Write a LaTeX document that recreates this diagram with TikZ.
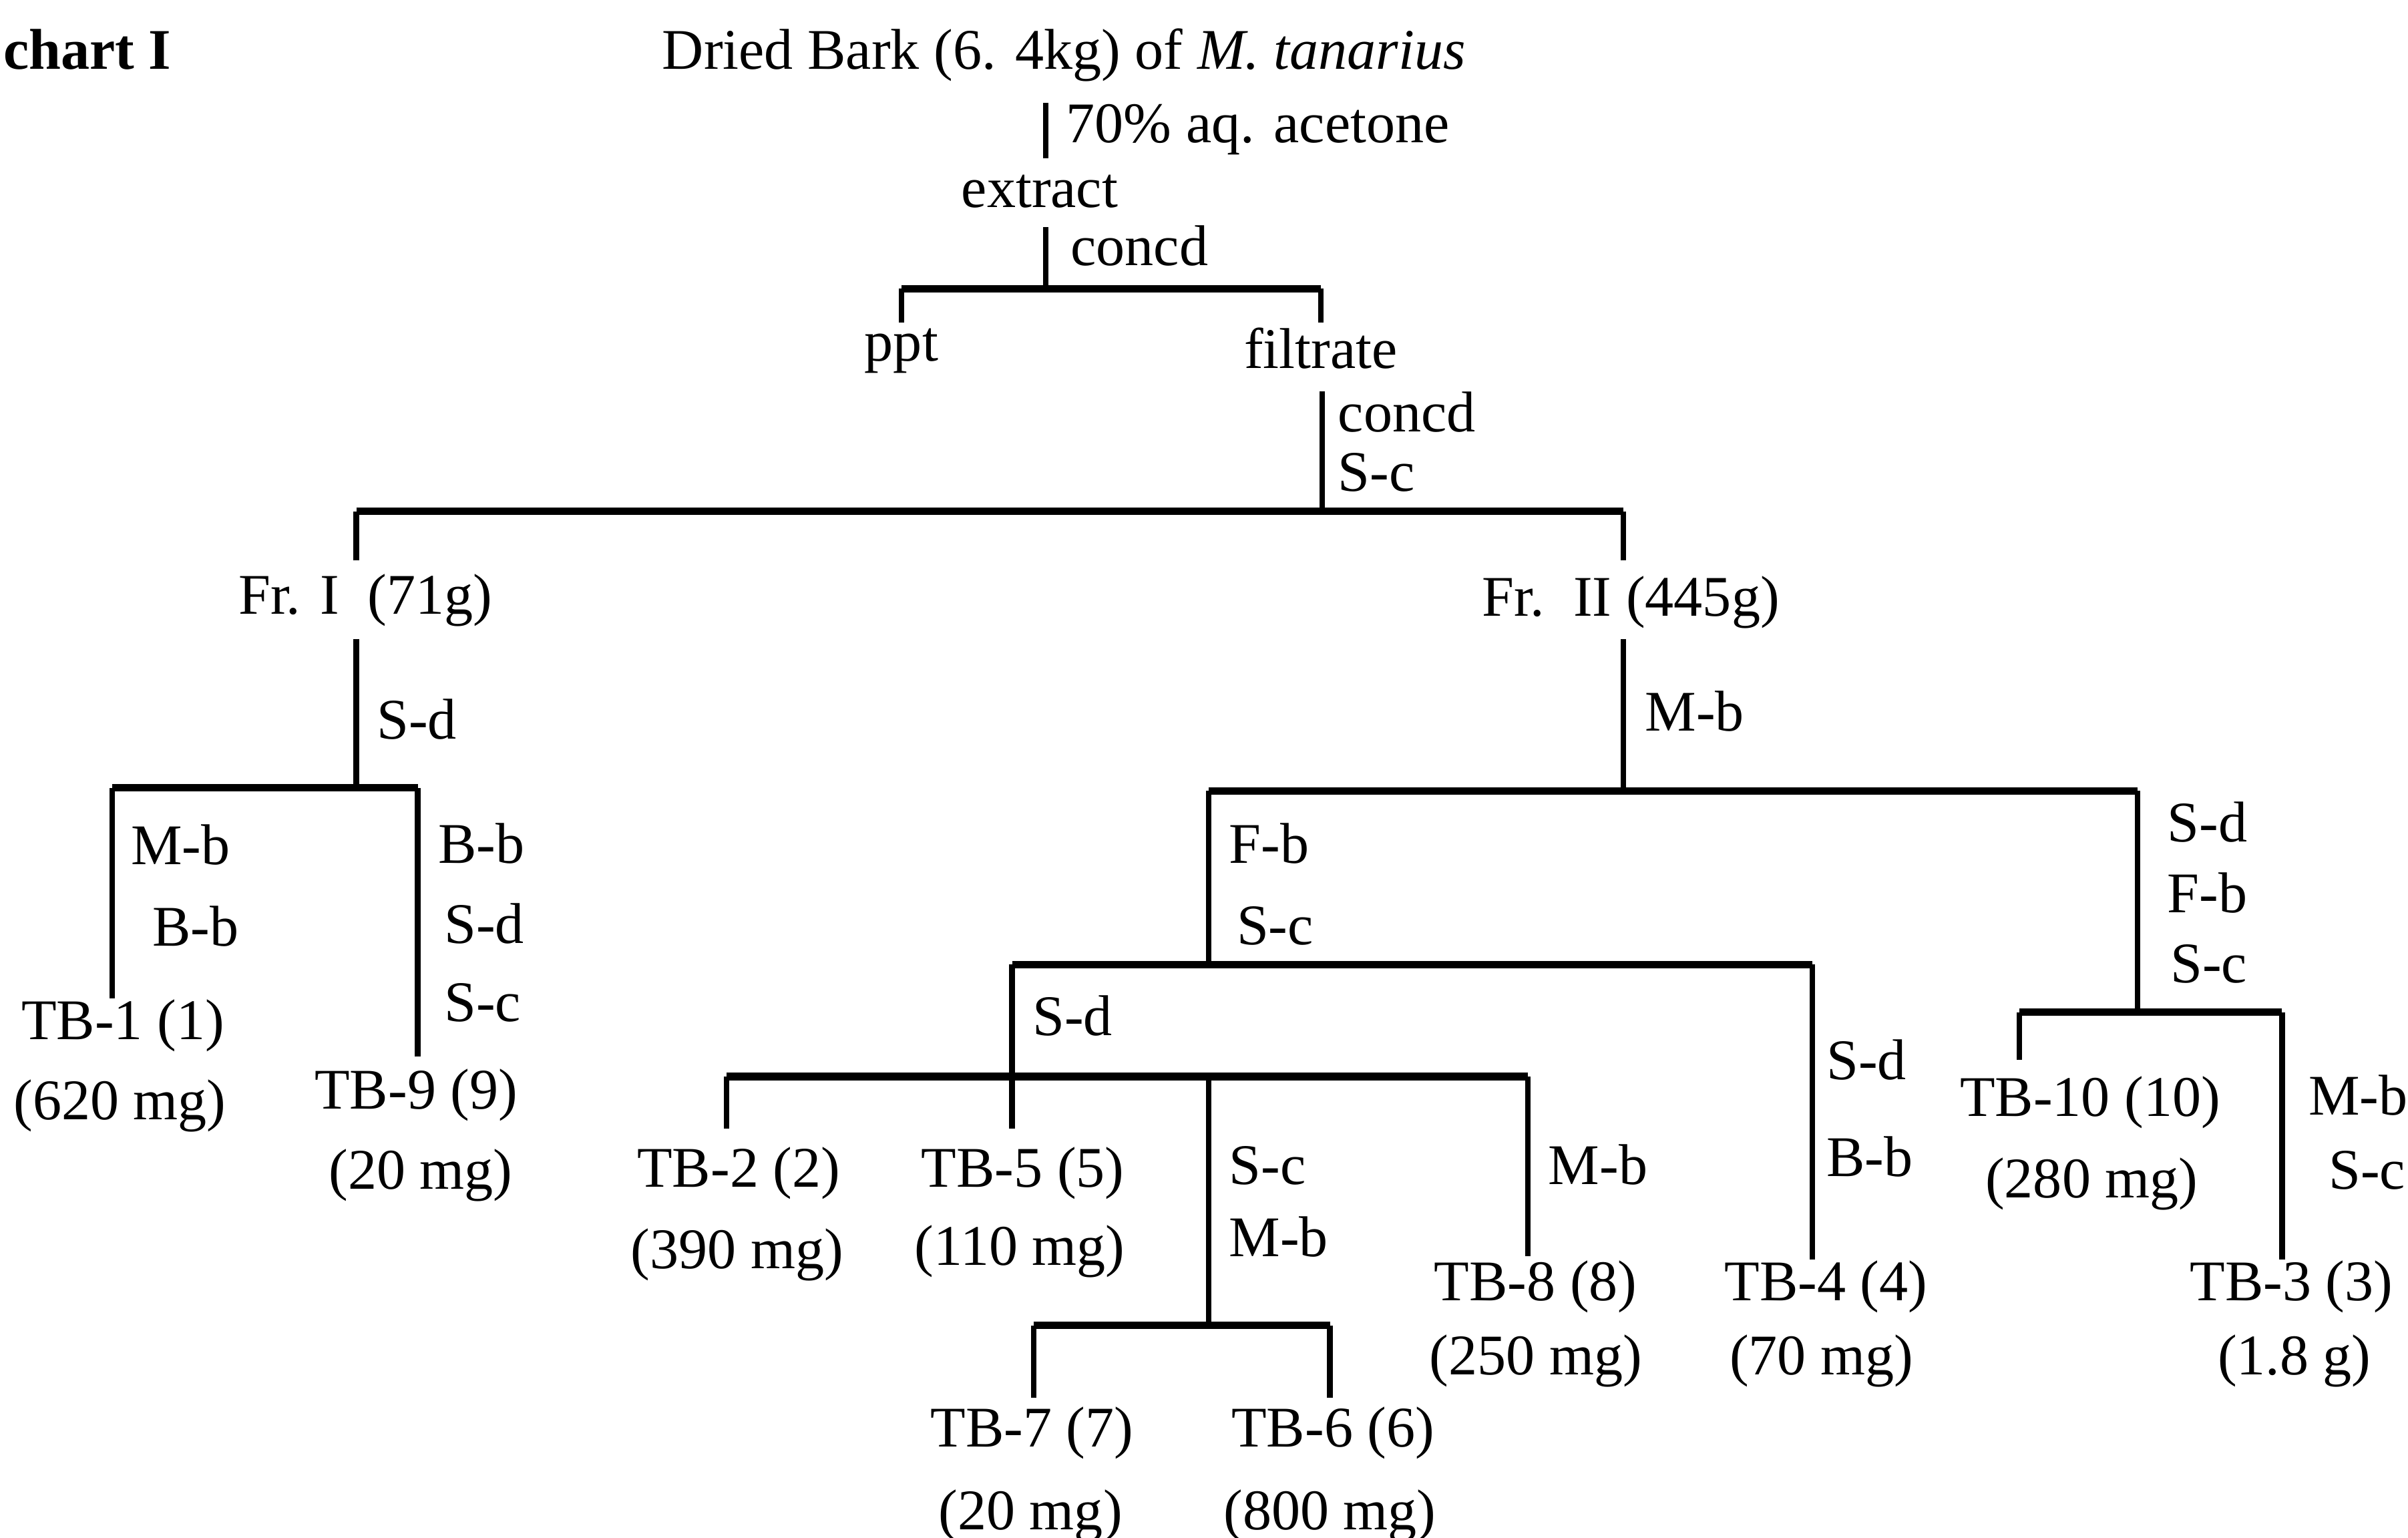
\documentclass[tikz,border=0pt]{standalone}
\usepackage{fontspec}
\setmainfont{Liberation Serif}
\begin{document}
\begin{tikzpicture}[x=0.023cm,y=-0.023cm,
  lbl/.style={font=\fontsize{24.5}{29}\selectfont, inner sep=0pt},
  lw/.style={lbl, anchor=base west},
  lc/.style={lbl, anchor=base},
  hl/.style={line width=3.2pt},
  vl/.style={line width=2.4pt}]
\useasboundingbox (0,0) rectangle (1568,1001);
% ---------- texts ----------
\node[lw] (title) at (2,45) {\bfseries chart I};
\node[lw] (bark) at (431,45) {Dried Bark (6. 4kg) of \textit{M. tanarius}};
\node[lw] (acet) at (694,93) {70\% aq. acetone};
\node[lc] (extract) at (677,135) {extract};
\node[lw] (concd1) at (697,173) {concd};
\node[lc] (ppt) at (587,235) {ppt};
\node[lc] (filtrate) at (860,240) {filtrate};
\node[lw] (concd2) at (871,281) {concd};
\node[lw] (sc1) at (871,320) {S-c};
\node[lw] (fr1) at (155,400) {Fr. I\ \ (71g)};
\node[lw] (fr2) at (965,401) {Fr.\ \ II\ (445g)};
\node[lw] (sd1) at (245,481) {S-d};
\node[lw] (mb1) at (85,563) {M-b};
\node[lw] (bb1) at (99,616) {B-b};
\node[lw] (bb2) at (285,562) {B-b};
\node[lw] (sd2) at (289,614) {S-d};
\node[lw] (sc2) at (289,665) {S-c};
\node[lc] (tb1) at (80,677) {TB-1 (1)};
\node[lc] (tb1m) at (78,729) {(620 mg)};
\node[lc] (tb9) at (271,722) {TB-9 (9)};
\node[lc] (tb9m) at (274,774) {(20 mg)};
\node[lw] (mb2) at (1071,476) {M-b};
\node[lw] (fb1) at (800,562) {F-b};
\node[lw] (sc3) at (805,615) {S-c};
\node[lw] (sd3) at (1411,548) {S-d};
\node[lw] (fb2) at (1411,594) {F-b};
\node[lw] (sc4) at (1413,640) {S-c};
\node[lw] (sd4) at (672,674) {S-d};
\node[lc] (tb2) at (481,773) {TB-2 (2)};
\node[lc] (tb2m) at (480,826) {(390 mg)};
\node[lc] (tb5) at (666,773) {TB-5 (5)};
\node[lc] (tb5m) at (664,824) {(110 mg)};
\node[lw] (sc5) at (800,771) {S-c};
\node[lw] (mb3) at (800,818) {M-b};
\node[lw] (mb4) at (1008,771) {M-b};
\node[lc] (tb8) at (1000,847) {TB-8 (8)};
\node[lc] (tb8m) at (1000,895) {(250 mg)};
\node[lw] (sd5) at (1189,703) {S-d};
\node[lw] (bb3) at (1189,766) {B-b};
\node[lc] (tb4) at (1189,847) {TB-4 (4)};
\node[lc] (tb4m) at (1186,895) {(70 mg)};
\node[lc] (tb7) at (672,942) {TB-7 (7)};
\node[lc] (tb7m) at (671,996) {(20 mg)};
\node[lc] (tb6) at (868,942) {TB-6 (6)};
\node[lc] (tb6m) at (866,996) {(800 mg)};
\node[lc] (tb10) at (1361,727) {TB-10 (10)};
\node[lc] (tb10m) at (1362,780) {(280 mg)};
\node[lw] (mb5) at (1503,726) {M-b};
\node[lw] (sc6) at (1516,774) {S-c};
\node[lc] (tb3) at (1492,847) {TB-3 (3)};
\node[lc] (tb3m) at (1494,895) {(1.8 g)};
% ---------- junction coordinates ----------
\coordinate (a1) at (681,67);  \coordinate (a2) at (681,103);
\coordinate (b1) at (681,148); \coordinate (b2) at (681,188);
\coordinate (bl) at (587,188); \coordinate (br) at (860,188);
\coordinate (blt) at (587,210); \coordinate (brt) at (860,210);
\coordinate (c1) at (861,255); \coordinate (c2) at (861,333);
\coordinate (cl) at (232,333); \coordinate (cr) at (1057,333);
\coordinate (clt) at (232,365); \coordinate (crt) at (1057,365);
\coordinate (d1) at (232,416); \coordinate (d2) at (232,513);
\coordinate (dl) at (73,513); \coordinate (dr) at (272,513);
\coordinate (dlt) at (73,650); \coordinate (drt) at (272,688);
\coordinate (e1) at (1057,416); \coordinate (e2) at (1057,515);
\coordinate (el) at (787,515); \coordinate (er) at (1392,515);
\coordinate (elt) at (787,628); \coordinate (ert) at (1392,659);
\coordinate (fl) at (659,628); \coordinate (fr) at (1180,628);
\coordinate (frt) at (1180,820);
\coordinate (gm) at (659,701);
\coordinate (gl) at (473,701); \coordinate (gr) at (995,701);
\coordinate (glt) at (473,735); \coordinate (gmt) at (659,735);
\coordinate (gs) at (787,701); \coordinate (gst) at (787,863);
\coordinate (grt) at (995,818);
\coordinate (hl) at (673,863); \coordinate (hr) at (866,863);
\coordinate (hlt) at (673,910); \coordinate (hrt) at (866,910);
\coordinate (il) at (1315,659); \coordinate (ir) at (1486,659);
\coordinate (ilt) at (1315,690); \coordinate (irt) at (1486,820);
% ---------- connectors ----------
\draw[vl] (a1) -- (a2);
\draw[vl] (b1) -- (b2);
\draw[hl] (bl) -- (br);
\draw[vl] (blt) -- (bl);
\draw[vl] (brt) -- (br);
\draw[vl] (c1) -- (c2);
\draw[hl] (cl) -- (cr);
\draw[vl] (clt) -- (cl);
\draw[vl] (crt) -- (cr);
\draw[vl] (d1) -- (d2);
\draw[hl] (dl) -- (dr);
\draw[vl] (dl) -- (dlt);
\draw[vl] (dr) -- (drt);
\draw[vl] (e1) -- (e2);
\draw[hl] (el) -- (er);
\draw[vl] (el) -- (elt);
\draw[vl] (er) -- (ert);
\draw[hl] (fl) -- (fr);
\draw[vl] (fl) -- (gm);
\draw[vl] (fr) -- (frt);
\draw[hl] (gl) -- (gr);
\draw[vl] (gl) -- (glt);
\draw[vl] (gm) -- (gmt);
\draw[vl] (gs) -- (gst);
\draw[vl] (gr) -- (grt);
\draw[hl] (hl) -- (hr);
\draw[vl] (hl) -- (hlt);
\draw[vl] (hr) -- (hrt);
\draw[hl] (il) -- (ir);
\draw[vl] (il) -- (ilt);
\draw[vl] (ir) -- (irt);
\end{tikzpicture}
\end{document}
